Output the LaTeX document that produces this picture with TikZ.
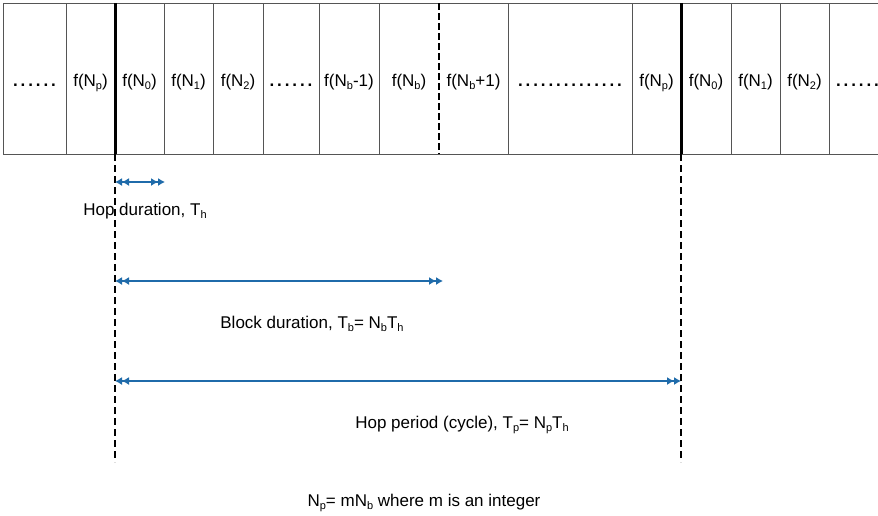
\documentclass[tikz,border=0pt]{standalone}
\usepackage{fontspec}
\setmainfont{Liberation Sans}
\usetikzlibrary{arrows.meta}
\definecolor{arrowblue}{HTML}{1F6BAA}
\definecolor{cellgray}{HTML}{555555}
\newcommand\sbs[1]{\raisebox{-0.35ex}{\fontsize{11}{11}\selectfont #1}}
\newcommand\dd{\textbf{.}\kern2.9pt}
\newcommand\sixdots{\dd\dd\dd\dd\dd\textbf{.}}
\newcommand\longdots{\dd\dd\dd\dd\dd\dd\dd\dd\dd\dd\dd\dd\dd\textbf{.}}
\begin{document}
\begin{tikzpicture}[x=1pt,y=-1pt,
  celltext/.style={font=\fontsize{17}{20}\selectfont, inner sep=0pt, anchor=base},
  labeltext/.style={font=\fontsize{17}{20}\selectfont, inner sep=0pt, anchor=base},
  cellline/.style={draw=cellgray, line width=1pt},
  thickline/.style={draw=black, line width=3pt},
  blockline/.style={draw=black, line width=2.5pt, dash pattern=on 7pt off 3pt},
  guideline/.style={draw=black, line width=1.6pt, dash pattern=on 7pt off 4pt},
  span/.style={draw=arrowblue, line width=1.2pt,
    {Latex[length=7pt,width=8pt]Latex[length=7pt,width=8pt]}-{Latex[length=7pt,width=8pt]Latex[length=7pt,width=8pt]}}
]
\useasboundingbox (0,0) rectangle (878,515);
% cells
\foreach \a/\b/\t [count=\i] in {3/66/{\sixdots}, 66/115/{f(N\sbs{p})}, 115/164/{f(N\sbs{0})},
  164/213/{f(N\sbs{1})}, 213/263/{f(N\sbs{2})}, 263/319/{\sixdots}, 319/379/{f(N\sbs{b}-1)},
  379/439/{f(N\sbs{b})}, 439/508/{f(N\sbs{b}+1)}, 508/632/{\longdots}, 632/681/{f(N\sbs{p})},
  681/731/{f(N\sbs{0})}, 731/780/{f(N\sbs{1})}, 780/829/{f(N\sbs{2})}, 829/886/{\sixdots}}
  \node[celltext] (c\i) at ({(\a+\b)/2},86) {\t};
% box outline and separators
\draw[cellline] (878,3) -- (3,3) -- (3,154) -- (878,154);
\foreach \x in {66,164,213,263,319,379,508,632,731,780,829}
  \draw[cellline] (\x,3) -- (\x,154);
\coordinate (p0top) at (115,3);
\coordinate (p0bot) at (115,154);
\coordinate (p1top) at (681,3);
\coordinate (p1bot) at (681,154);
\coordinate (btop) at (439,3);
\coordinate (bbot) at (439,154);
\draw[thickline] (p0top) -- (p0bot);
\draw[thickline] (p1top) -- (p1bot);
\draw[blockline] (btop) -- (bbot);
% guide lines
\coordinate (g0) at (115,462);
\coordinate (g1) at (681,462);
\draw[guideline] (p0bot) -- (g0);
\draw[guideline] (p1bot) -- (g1);
% spans
\coordinate (h0) at (115,182);
\coordinate (h1) at (165,182);
\coordinate (b0) at (115,281);
\coordinate (b1) at (443,281);
\coordinate (t0) at (115,381);
\coordinate (t1) at (681,381);
\draw[span] (h0) -- (h1);
\draw[span] (b0) -- (b1);
\draw[span] (t0) -- (t1);
% labels
\node[labeltext] (lh) at (145,215) {Hop duration, T\sbs{h}};
\node[labeltext] (lb) at (312,328) {Block duration, T\sbs{b}= N\sbs{b}T\sbs{h}};
\node[labeltext] (lp) at (462,428) {Hop period (cycle), T\sbs{p}= N\sbs{p}T\sbs{h}};
\node[labeltext] (ln) at (424,506) {N\sbs{p}= mN\sbs{b} where m is an integer};
\end{tikzpicture}
\end{document}
